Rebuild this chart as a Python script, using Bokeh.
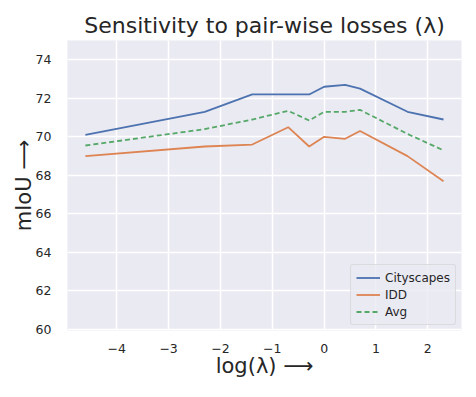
import numpy as np
from bokeh.plotting import figure
from bokeh.models import Range1d, FixedTicker, Legend, LegendItem
from bokeh.embed import file_html
from bokeh.resources import INLINE

log_lambda = [-4.605, -2.303, -1.386, -0.693, -0.288, 0.0, 0.405, 0.693, 1.609, 2.303]
cityscapes = [70.1, 71.3, 72.2, 72.2, 72.2, 72.6, 72.7, 72.5, 71.3, 70.9]
idd = [69.0, 69.5, 69.6, 70.5, 69.5, 70.0, 69.9, 70.3, 69.0, 67.7]
avg = [(a + b) / 2 for a, b in zip(cityscapes, idd)]
x_ticks = [-4, -3, -2, -1, 0, 1, 2]
y_ticks = [60, 62, 64, 66, 68, 70, 72, 74]

p = figure(width=468, height=389, output_backend="svg", toolbar_location=None,
           x_range=Range1d(-4.95, 2.65), y_range=Range1d(59.95, 75.0),
           title="Sensitivity to pair-wise losses (λ)",
           min_border_left=67, min_border_right=7, min_border_top=40, min_border_bottom=59)

p.title.text_font = "DejaVu Sans"
p.title.text_font_size = "22px"
p.title.text_font_style = "normal"
p.title.align = "center"
p.title.text_color = "#262626"
p.title.offset = 0
p.title.standoff = 6

p.background_fill_color = "#EAEAF2"
p.border_fill_color = "white"
p.outline_line_color = None

for ax in (p.xaxis, p.yaxis):
    ax.axis_line_color = None
    ax.major_tick_line_color = None
    ax.minor_tick_line_color = None
    ax.major_label_text_font = "DejaVu Sans"
    ax.major_label_text_font_size = "12.5px"
    ax.major_label_text_color = "#262626"
    ax.axis_label_text_font = "DejaVu Sans"
    ax.axis_label_text_font_size = "21px"
    ax.axis_label_text_font_style = "normal"
    ax.axis_label_text_color = "#262626"

p.xaxis.ticker = FixedTicker(ticks=x_ticks)
p.yaxis.ticker = FixedTicker(ticks=y_ticks)
p.xaxis.major_label_overrides = {t: ("−" + str(abs(t)) if t < 0 else str(t)) for t in x_ticks}
p.xaxis.axis_label = "log(λ) ⟶"
p.yaxis.axis_label = "mIoU ⟶"
p.xaxis.major_label_standoff = 7
p.yaxis.major_label_standoff = 10
p.xaxis.axis_label_standoff = -2
p.yaxis.axis_label_standoff = -3

p.xgrid.grid_line_color = "white"
p.ygrid.grid_line_color = "white"
p.xgrid.grid_line_width = 1.5
p.ygrid.grid_line_width = 1.5

r1 = p.line(log_lambda, cityscapes, line_color="#4C72B0", line_width=1.8)
r2 = p.line(log_lambda, idd, line_color="#DD8452", line_width=1.8)
r3 = p.line(log_lambda, avg, line_color="#55A868", line_width=1.8, line_dash="5 3")

legend = Legend(items=[LegendItem(label="Cityscapes", renderers=[r1]),
                       LegendItem(label="IDD", renderers=[r2]),
                       LegendItem(label="Avg", renderers=[r3])],
                location="bottom_right")
legend.label_text_font = "DejaVu Sans"
legend.label_text_font_size = "12px"
legend.label_text_color = "#262626"
legend.background_fill_color = "#EAEAF2"
legend.background_fill_alpha = 0.8
legend.border_line_color = "#CCCCCC"
legend.border_line_width = 1
legend.label_height = 15
legend.glyph_height = 15
legend.glyph_width = 24
legend.spacing = 2
legend.padding = 5
legend.margin = 5
legend.border_radius = 3
p.add_layout(legend)

open("out.html", "w").write(file_html(p, INLINE))
